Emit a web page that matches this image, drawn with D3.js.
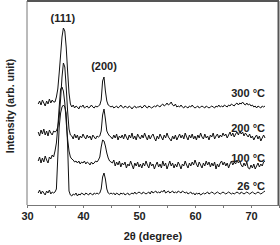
<!DOCTYPE html>
<html>
<head>
<meta charset="utf-8">
<script src="https://d3js.org/d3.v7.min.js"></script>
<style>
  body { margin: 0; background: #fff; }
  svg { display: block; }
</style>
</head>
<body>
<svg width="280" height="245"></svg>
<script>
// scan grid, 32 to 72.5 degrees in 0.25 degree steps
var twoTheta = d3.range(32, 72.5001, 0.25);

var temps = ['26 °C', '100 °C', '200 °C', '300 °C'];
var offsets = [0, 28, 56, 86];

// rows: 32-34.75 | 35-37.75 (111) | 38-42.75 | 43-45 (200) | 45.25-72.5
var int26 = [
    12, 15, 11, 14, 12, 10, 14, 12, 15, 11, 13, 12,
    13, 16, 48, 78, 92, 98, 100, 98, 92, 60, 14, 10,
    9, 11, 10, 12, 9, 11, 10, 12, 11, 10, 12, 11, 10, 12, 11, 10, 12, 11, 12, 11,
    12, 16, 28, 32, 26, 16, 12, 11, 12,
    11, 12, 10, 12, 11, 10, 12, 11, 12, 10,
    11, 12, 10, 11, 12, 11, 13, 11, 12, 13,
    12, 11, 13, 12, 11, 12, 13, 11, 14, 12,
    13, 14, 12, 13, 12, 14, 13, 15, 12, 13,
    14, 12, 13, 14, 12, 13, 12, 14, 13, 12,
    14, 13, 12, 13, 11, 12, 13, 11, 12, 10,
    12, 11, 12, 10, 11, 12, 11, 12, 13, 11,
    12, 13, 12, 11, 12, 13, 12, 11, 12, 13,
    12, 11, 12, 13, 12, 11, 12, 11, 12, 13,
    12, 11, 13, 12, 11, 12, 13, 12, 11, 12,
    13, 12, 11, 12, 13, 12, 11, 12, 13, 14
];
var int100 = [
    16, 20, 14, 19, 15, 21, 17, 14, 20, 18, 22, 20,
    26, 34, 50, 70, 88, 90, 86, 74, 55, 38, 26, 20,
    18, 17, 15, 16, 14, 16, 13, 15, 14, 16, 13, 15, 14, 12, 15, 13, 14, 16, 15, 17,
    20, 30, 37, 36, 31, 24, 19, 16, 15,
    14, 17, 11, 15, 12, 16, 10, 14, 12, 15,
    9, 13, 11, 16, 12, 8, 14, 11, 15, 10,
    13, 9, 14, 11, 16, 12, 9, 15, 11, 13,
    8, 12, 15, 10, 13, 9, 16, 11, 14, 8,
    12, 16, 11, 14, 9, 13, 10, 15, 12, 8,
    13, 11, 16, 12, 9, 14, 11, 15, 12, 17,
    13, 10, 15, 12, 9, 14, 11, 16, 12, 15,
    10, 14, 11, 15, 8, 13, 10, 14, 16, 12,
    15, 11, 14, 9, 13, 16, 12, 15, 13, 17,
    14, 16, 12, 10, 14, 11, 15, 9, 8, 12,
    9, 13, 8, 11, 14, 10, 13, 11, 15, 16
];
var int200 = [
    17, 13, 19, 15, 20, 14, 18, 13, 19, 16, 14, 18,
    17, 18, 22, 32, 50, 72, 86, 82, 62, 38, 20, 14,
    13, 10, 15, 11, 14, 9, 13, 11, 15, 12, 10, 14, 11, 13, 9, 14, 12, 10, 13, 12,
    13, 18, 34, 40, 30, 18, 15, 13, 12,
    10, 14, 11, 15, 9, 13, 11, 14, 10, 15,
    12, 9, 14, 11, 16, 10, 13, 9, 15, 12,
    10, 14, 11, 16, 12, 9, 14, 10, 13, 15,
    11, 8, 13, 10, 15, 12, 9, 14, 11, 16,
    12, 10, 8, 13, 10, 14, 9, 12, 15, 11,
    14, 10, 16, 12, 9, 14, 11, 15, 10, 13,
    9, 14, 11, 16, 12, 10, 15, 11, 13, 9,
    14, 12, 16, 10, 13, 15, 11, 14, 12, 16,
    13, 15, 11, 14, 17, 13, 16, 12, 15, 17,
    14, 18, 15, 17, 13, 16, 14, 12, 15, 11,
    13, 9, 12, 14, 10, 13, 8, 11, 14, 11
];
var int300 = [
    15, 18, 14, 19, 16, 13, 18, 15, 20, 16, 19, 17,
    17, 22, 30, 46, 64, 82, 91, 88, 72, 48, 26, 15,
    12, 14, 11, 13, 12, 10, 13, 12, 14, 11, 12, 13, 11, 12, 14, 12, 11, 13, 12, 13,
    14, 19, 38, 42, 28, 18, 14, 13, 12,
    13, 11, 12, 13, 11, 12, 14, 12, 11, 13,
    12, 11, 13, 12, 10, 12, 13, 11, 12, 12,
    13, 11, 12, 14, 12, 11, 13, 12, 11, 12,
    13, 12, 14, 13, 12, 14, 15, 13, 14, 16,
    14, 15, 17, 14, 13, 15, 12, 13, 12, 14,
    12, 11, 13, 12, 11, 13, 12, 14, 12, 11,
    12, 13, 11, 12, 13, 12, 11, 13, 12, 11,
    12, 13, 12, 11, 13, 12, 14, 12, 13, 12,
    14, 13, 12, 14, 13, 15, 14, 13, 15, 16,
    14, 16, 15, 17, 15, 14, 16, 14, 15, 13,
    14, 12, 13, 11, 13, 12, 11, 13, 12, 13
];
var series = [int26, int100, int200, int300];

var xTicks = [30, 40, 50, 60, 70];
var xMinorTicks = [35, 45, 55, 65, 75];
var peakLabels = [{ text: '(111)', x: 36.4, y: 183 }, { text: '(200)', x: 43.75, y: 135 }];
var tempLabelY = [15, 43, 73, 108];

var svg = d3.select('svg');
var padL = 27, padR = 279, padT = 1, padB = 205;

var x = d3.scaleLinear().domain([30, 75]).range([padL, padR]);
var y = d3.scaleLinear().domain([0, 204]).range([padB, padT]);

var fontFam = 'Liberation Sans, Arial, sans-serif';

// traces
var line = d3.line()
    .x(function(d) { return x(d[0]); })
    .y(function(d) { return y(d[1]); });

series.forEach(function(vals, i) {
    var pts = vals.map(function(v, j) { return [twoTheta[j], v + offsets[i]]; });
    svg.append('path')
        .attr('d', line(pts))
        .attr('fill', 'none')
        .attr('stroke', '#111')
        .attr('stroke-width', 1)
        .attr('stroke-linejoin', 'round');
});

// frame
svg.append('line').attr('x1', padL).attr('x2', padR).attr('y1', padT).attr('y2', padT)
    .attr('stroke', '#555').attr('stroke-width', 2);
svg.append('line').attr('x1', padR - 0.5).attr('x2', padR - 0.5).attr('y1', padT).attr('y2', padB)
    .attr('stroke', '#555').attr('stroke-width', 2);
svg.append('line').attr('x1', padL).attr('x2', padL).attr('y1', padT).attr('y2', padB)
    .attr('stroke', '#777').attr('stroke-width', 1);

// x axis
var xAxis = d3.axisBottom(x).tickValues(xTicks).tickSize(3).tickPadding(4).tickFormat(d3.format('d'));
var gx = svg.append('g').attr('transform', 'translate(0,' + padB + ')').call(xAxis);
gx.select('.domain').attr('stroke', '#777');
gx.selectAll('.tick line').attr('stroke', '#777');
gx.selectAll('.tick text')
    .attr('font-family', fontFam).attr('font-size', 11).attr('font-weight', 'bold').attr('fill', '#222');
svg.append('g').attr('transform', 'translate(0,' + padB + ')')
    .call(d3.axisBottom(x).tickValues(xMinorTicks).tickSize(3).tickFormat(''))
    .call(function(g) { g.select('.domain').remove(); g.selectAll('line').attr('stroke', '#777'); });

// axis titles
svg.append('text')
    .attr('x', 153).attr('y', 240)
    .attr('text-anchor', 'middle')
    .attr('font-family', fontFam).attr('font-size', 11).attr('font-weight', 'bold').attr('fill', '#222')
    .text('2θ (degree)');
svg.append('text')
    .attr('transform', 'translate(14,106) rotate(-90)')
    .attr('text-anchor', 'middle')
    .attr('font-family', fontFam).attr('font-size', 10.5).attr('font-weight', 'bold').attr('fill', '#222')
    .text('Intensity (arb. unit)');

// peak labels
svg.selectAll('.peak')
    .data(peakLabels)
    .enter()
    .append('text')
    .attr('class', 'peak')
    .attr('x', function(d) { return x(d.x); })
    .attr('y', function(d) { return y(d.y); })
    .attr('text-anchor', 'middle')
    .attr('font-family', fontFam).attr('font-size', 11).attr('font-weight', 'bold').attr('fill', '#222')
    .text(function(d) { return d.text; });

// temperature labels
svg.selectAll('.temp')
    .data(temps)
    .enter()
    .append('text')
    .attr('class', 'temp')
    .attr('x', x(72.5))
    .attr('y', function(d, i) { return y(tempLabelY[i]); })
    .attr('text-anchor', 'end')
    .attr('font-family', fontFam).attr('font-size', 11).attr('font-weight', 'bold').attr('fill', '#222')
    .text(function(d) { return d; });
</script>
</body>
</html>
